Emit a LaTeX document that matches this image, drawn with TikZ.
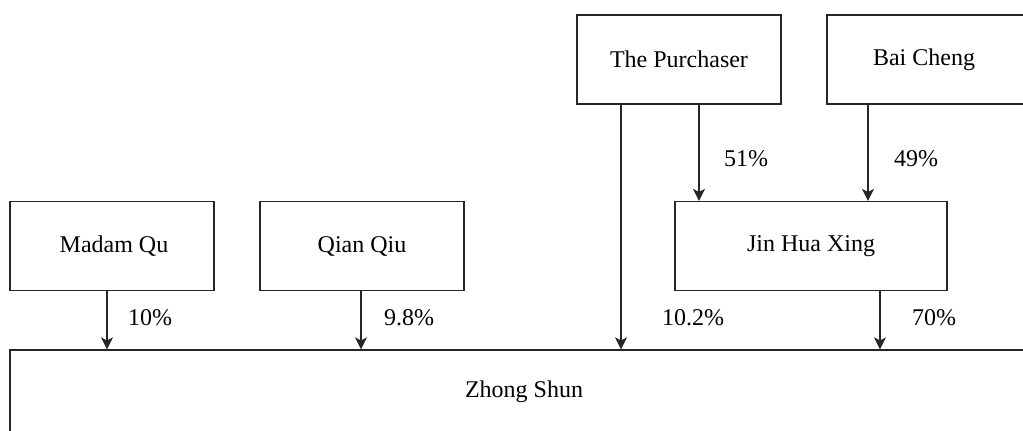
\documentclass[tikz,border=0pt]{standalone}
\usepackage{fontspec}
\setmainfont{Liberation Serif}
\usetikzlibrary{arrows.meta}
\begin{document}
\begin{tikzpicture}[x=1pt,y=-1pt,
  box/.style={draw=black!85, line width=1.2pt, rectangle, inner sep=0pt, minimum height=89pt},
  txt/.style={font=\fontsize{24}{28}\selectfont, inner sep=0pt},
  pct/.style={font=\fontsize{24}{28}\selectfont, inner sep=0pt},
  arr/.style={draw=black!85, line width=1.2pt, -{Stealth[length=12pt,width=12pt,inset=3pt]}}]
\useasboundingbox (0,0) rectangle (1023,431);
% boxes
\node[box, minimum width=204pt] (pur) at (679,59.5) {};
\node[txt] at (pur.center) {The Purchaser};
\node[box, minimum width=204pt] (bai) at (929,59.5) {};
\node[txt] at (924,60) {Bai Cheng};
\node[box, minimum width=204pt] (mq) at (112,246) {};
\node[txt] at (114,246) {Madam Qu};
\node[box, minimum width=204pt] (qq) at (362,246) {};
\node[txt] at (362,246) {Qian Qiu};
\node[box, minimum width=272pt] (jhx) at (811,246) {};
\node[txt] at (jhx.center) {Jin Hua Xing};
\node[box, minimum width=1040pt, minimum height=100pt] (zs) at (530,400) {};
\node[txt] at (524,392) {Zhong Shun};
% connectors
\draw[arr] (pur.south -| 699,0) -- (jhx.north -| 699,0);
\draw[arr] (bai.south -| 868,0) -- (jhx.north -| 868,0);
\draw[arr] (mq.south -| 107,0) -- (zs.north -| 107,0);
\draw[arr] (qq.south -| 361,0) -- (zs.north -| 361,0);
\draw[arr] (pur.south -| 621,0) -- (zs.north -| 621,0);
\draw[arr] (jhx.south -| 880,0) -- (zs.north -| 880,0);
% labels
\node[pct] (l51) at (746,159) {51\%};
\node[pct] (l49) at (916,159) {49\%};
\node[pct] (l10) at (150,318) {10\%};
\node[pct] (l98) at (409,318) {9.8\%};
\node[pct] (l102) at (693,318) {10.2\%};
\node[pct] (l70) at (934,318) {70\%};
\end{tikzpicture}
\end{document}
